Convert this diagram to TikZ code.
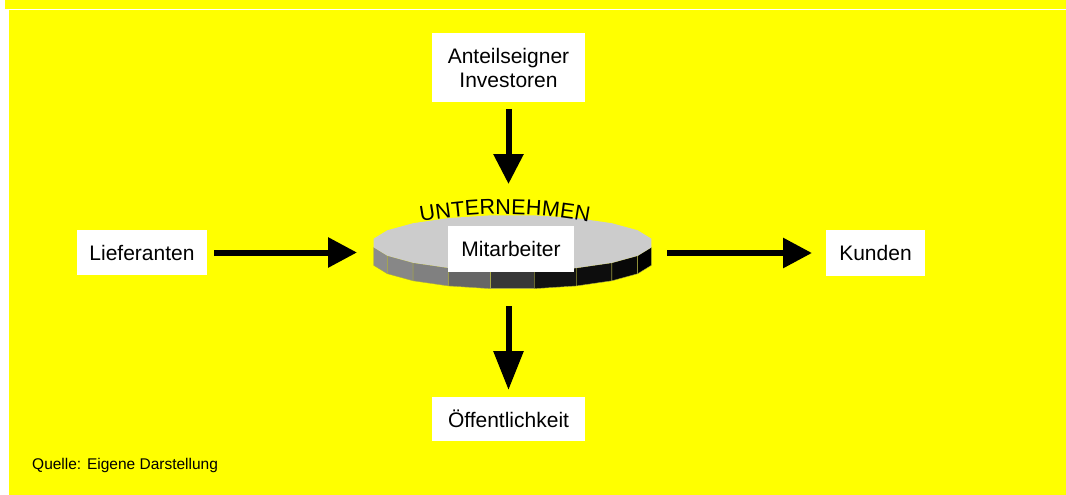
\documentclass[tikz,border=0pt]{standalone}
\usepackage{fontspec}
\setmainfont{Liberation Sans}
\usetikzlibrary{arrows.meta,shapes.geometric,decorations.text}
\definecolor{bgyellow}{RGB}{255,255,0}
\definecolor{facetline}{RGB}{170,170,70}
\begin{document}
\begin{tikzpicture}[x=1pt,y=1pt,
  box/.style={fill=white, inner sep=0pt, outer sep=0pt, align=center, font=\fontsize{21}{24}\selectfont},
  bigarrow/.style={line width=6pt, -{Triangle[length=#1,width=29pt]}},
]
\useasboundingbox (0,0) rectangle (1066,-495);
% background
\fill[white] (0,0) rectangle (1066,-495);
\fill[bgyellow] (5,0) rectangle (1066,-8.7);
\fill[bgyellow] (9,-10) rectangle (1066,-495);

% disk (Unternehmen)
\node[ellipse, minimum width=281pt, minimum height=56pt, inner sep=0pt, outer sep=0pt] (disk) at (512.5,-243) {};
\foreach \a/\c in {189/45,207/47,225/50,243/60,261/78,279/93,297/95,315/97,333/100}{
  \filldraw[fill=black!\c, draw=facetline, line width=0.4pt]
    ({512.5+140.5*cos(\a)},{-243+28*sin(\a)}) --
    ({512.5+140.5*cos(\a+18)},{-243+28*sin(\a+18)}) --
    ({512.5+140.5*cos(\a+18)},{-261+28*sin(\a+18)}) --
    ({512.5+140.5*cos(\a)},{-261+28*sin(\a)}) -- cycle;
}
\fill[black!20] ({512.5+140.5*cos(9)},{-243+28*sin(9)})
  \foreach \a in {27,45,...,351}{ -- ({512.5+140.5*cos(\a)},{-243+28*sin(\a)}) } -- cycle;

% arched label
\path[decorate, decoration={text along path, text align={fit to path},
  text={|\fontsize{21.5}{24}\selectfont|UNTERNEHMEN}}]
  (421,-222) arc[start angle=100.45, end angle=79.55, radius=463];

% boxes
\node[box, minimum width=153pt, minimum height=68.5pt] (anteil) at (508.5,-67.5) {Anteilseigner\\Investoren};
\node[box, minimum width=130pt, minimum height=45pt] (lief) at (142,-252.5) {Lieferanten};
\node[box, minimum width=99pt, minimum height=46pt] (kunden) at (875.5,-253) {Kunden};
\node[box, minimum width=153pt, minimum height=44pt] (oeff) at (508.5,-419) {Öffentlichkeit};
\node[box, minimum width=126pt, minimum height=46pt] (mitar) at (511,-249) {Mitarbeiter};

% arrows
\draw[bigarrow=30pt, shorten <=7pt, shorten >=31pt] (anteil.south) -- (anteil.south |- disk.north);
\draw[bigarrow=39pt, shorten <=35pt, shorten >=7pt] (oeff.north |- disk.south) -- (oeff.north);
\draw[bigarrow=29pt, shorten <=7pt, shorten >=15pt] (lief.east) -- (lief.east -| disk.west);
\draw[bigarrow=29pt, shorten <=14pt, shorten >=14pt] (kunden.west -| disk.east) -- (kunden.west);

% source
\node[anchor=west, inner sep=0pt, font=\fontsize{15.5}{18}\selectfont] (quelle) at (32,-465) {Quelle: Eigene Darstellung};
\end{tikzpicture}
\end{document}
